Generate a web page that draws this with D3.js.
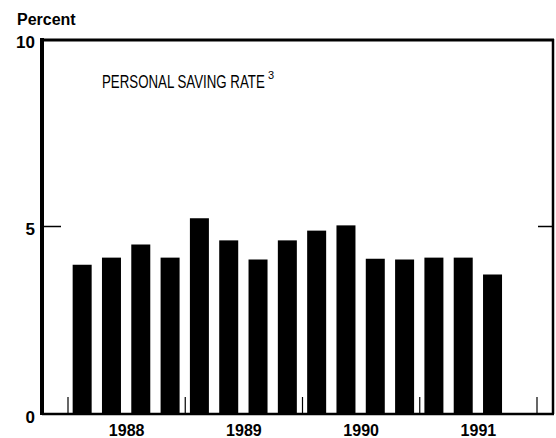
<!DOCTYPE html>
<html>
<head>
<meta charset="utf-8">
<script src="https://cdn.jsdelivr.net/npm/d3@7"></script>
<style>
  body { margin: 0; background: #fff; }
  svg { display: block; }
</style>
</head>
<body>
<div id="chart"></div>
<script>
// Quarterly personal saving rate, 1988:Q1 - 1991:Q3
var quarters = ["1988Q1", "1988Q2", "1988Q3", "1988Q4",
                "1989Q1", "1989Q2", "1989Q3", "1989Q4",
                "1990Q1", "1990Q2", "1990Q3", "1990Q4",
                "1991Q1", "1991Q2", "1991Q3"];
var savingRate = [3.98, 4.17, 4.52, 4.17,
                  5.22, 4.63, 4.12, 4.63,
                  4.89, 5.03, 4.14, 4.12,
                  4.17, 4.17, 3.72];
var years = [1988, 1989, 1990, 1991];
var yearBreaks = [1988, 1989, 1990, 1991, 1992];
var yTicks = [0, 5, 10];

var W = 556, H = 438;
var PLOT = { left: 42, right: 553, top: 39, bottom: 414 };
var FONT = "'Liberation Sans', Arial, Helvetica, sans-serif";

var svg = d3.select("#chart").append("svg")
    .attr("width", W)
    .attr("height", H);

var x = d3.scaleLinear().domain([1988, 1992]).range([67.5, 536.5]);
var y = d3.scaleLinear().domain([0, 10]).range([PLOT.bottom, PLOT.top]);

// position of a quarter's centre on the year scale
function qpos(q) {
    var yr = +q.slice(0, 4), n = +q.slice(5);
    return yr + (n - 0.5) / 4;
}

var barW = 19;

// bars
svg.append("g").selectAll("rect")
    .data(savingRate)
    .enter().append("rect")
    .attr("x", function(d, i) { return x(qpos(quarters[i])) - barW / 2; })
    .attr("y", function(d) { return y(d); })
    .attr("width", barW)
    .attr("height", function(d) { return y(0) - y(d); })
    .attr("fill", "#000");

// frame
svg.append("line").attr("x1", PLOT.left).attr("x2", PLOT.left)
    .attr("y1", y(10) - 1).attr("y2", y(0) + 1)
    .attr("stroke", "#000").attr("stroke-width", 4);
svg.append("line").attr("x1", PLOT.left).attr("x2", PLOT.right + 1)
    .attr("y1", y(10) + 1).attr("y2", y(10) + 1)
    .attr("stroke", "#000").attr("stroke-width", 3);
svg.append("line").attr("x1", PLOT.right).attr("x2", PLOT.right)
    .attr("y1", y(10)).attr("y2", y(0))
    .attr("stroke", "#000").attr("stroke-width", 2.5);
svg.append("line").attr("x1", PLOT.left).attr("x2", PLOT.right + 1)
    .attr("y1", y(0)).attr("y2", y(0))
    .attr("stroke", "#000").attr("stroke-width", 2.5);

// inner tick at 5 on both sides
svg.append("line").attr("x1", PLOT.left + 2).attr("x2", PLOT.left + 19)
    .attr("y1", y(5)).attr("y2", y(5))
    .attr("stroke", "#000").attr("stroke-width", 1.5);
svg.append("line").attr("x1", PLOT.right - 15).attr("x2", PLOT.right)
    .attr("y1", y(5)).attr("y2", y(5))
    .attr("stroke", "#000").attr("stroke-width", 1.5);

// y labels
var yAxis = svg.append("g")
    .attr("transform", "translate(" + PLOT.left + ",0)")
    .call(d3.axisLeft(y).tickValues(yTicks).tickSize(0).tickPadding(7));
yAxis.select(".domain").remove();
yAxis.selectAll("text")
    .attr("dy", "0.47em")
    .style("font-family", FONT)
    .style("font-size", "17px")
    .style("font-weight", "bold")
    .attr("fill", "#000");

// year boundary ticks along the bottom
var xTicks = svg.append("g")
    .attr("transform", "translate(0," + y(0) + ")")
    .call(d3.axisBottom(x).tickValues(yearBreaks).tickSize(-17).tickFormat(""));
xTicks.select(".domain").remove();
xTicks.selectAll("line").attr("stroke", "#000").attr("stroke-width", 1.2);

// year labels, centred in each year
var xLabels = svg.append("g")
    .attr("transform", "translate(0," + y(0) + ")")
    .call(d3.axisBottom(x).tickValues(years.map(function(d) { return d + 0.5; }))
        .tickSize(0).tickPadding(11)
        .tickFormat(function(d) { return String(Math.floor(d)); }));
xLabels.select(".domain").remove();
xLabels.selectAll("text")
    .style("font-family", FONT)
    .style("font-size", "16px")
    .style("font-weight", "bold")
    .attr("fill", "#000");

// unit label
svg.append("text")
    .attr("x", 17).attr("y", 25)
    .style("font-family", FONT)
    .style("font-size", "16px")
    .style("font-weight", "bold")
    .text("Percent");

// panel title, squeezed horizontally like the condensed original face
var title = svg.append("text")
    .style("font-family", FONT)
    .style("font-size", "19px")
    .text("PERSONAL SAVING RATE");
var sx = 163 / title.node().getComputedTextLength();
title.attr("transform", "translate(102,88) scale(" + sx + ",1)");
svg.append("text")
    .attr("x", 268).attr("y", 79)
    .style("font-family", FONT)
    .style("font-size", "11px")
    .text("3");
</script>
</body>
</html>
